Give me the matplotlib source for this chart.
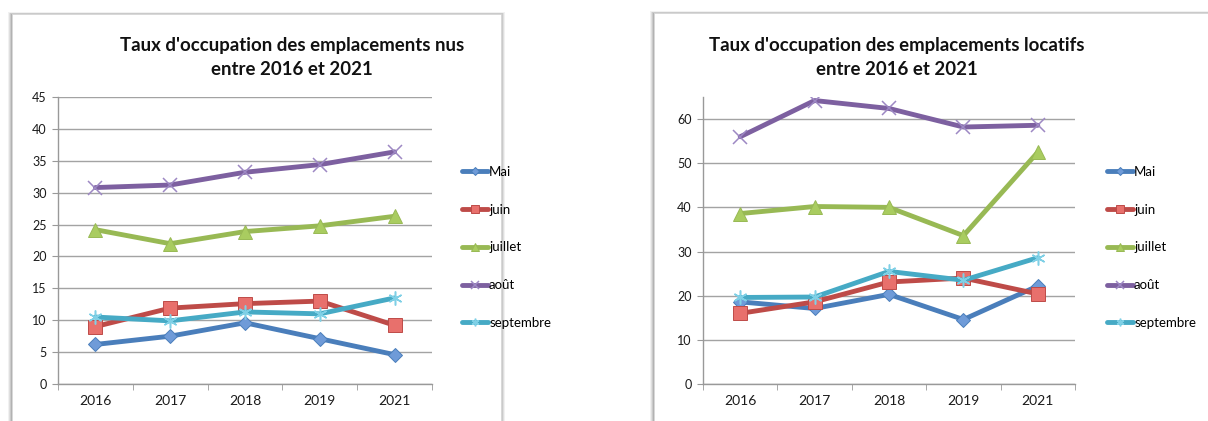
import matplotlib
matplotlib.use("Agg")
import matplotlib.pyplot as plt
from matplotlib.patches import Rectangle
import numpy as np

plt.rcParams["font.family"] = ["Lato", "DejaVu Sans"]

years = ["2016", "2017", "2018", "2019", "2021"]
series_names = ["Mai", "juin", "juillet", "août", "septembre"]

nus_mai = [6.2, 7.5, 9.6, 7.1, 4.6]
nus_juin = [9.0, 11.9, 12.6, 13.0, 9.2]
nus_juillet = [24.2, 22.0, 23.9, 24.8, 26.3]
nus_aout = [30.8, 31.2, 33.2, 34.4, 36.4]
nus_septembre = [10.5, 9.9, 11.3, 11.0, 13.5]

loc_mai = [18.6, 17.1, 20.3, 14.6, 22.2]
loc_juin = [16.0, 18.6, 23.1, 24.0, 20.4]
loc_juillet = [38.6, 40.2, 40.0, 33.6, 52.5]
loc_aout = [56.0, 64.2, 62.4, 58.2, 58.6]
loc_septembre = [19.6, 19.7, 25.5, 23.5, 28.6]

title_nus = "Taux d'occupation des emplacements nus\nentre 2016 et 2021"
title_loc = "Taux d'occupation des emplacements locatifs\nentre 2016 et 2021"

W, H = 1208, 421
fig = plt.figure(figsize=(W / 100, H / 100), dpi=100)
fig.patch.set_facecolor("white")

def px(x0, y0, x1, y1):
    return [x0 / W, 1 - y1 / H, (x1 - x0) / W, (y1 - y0) / H]

# panel frames with shadows
def panel(x0, y0, x1, y1):
    for i, a in enumerate([0.10, 0.14, 0.20, 0.28]):
        d = 4 - i
        r = Rectangle(((x0 - d) / W, -0.01), (x1 - x0 + 2 * d) / W,
                      1 - (y0 - d * 0.4) / H + 0.01,
                      transform=fig.transFigure, facecolor="#777777",
                      edgecolor="none", alpha=a, zorder=-3)
        fig.patches.append(r)
    r = Rectangle((x0 / W, -0.01), (x1 - x0) / W, 1 - y0 / H + 0.01,
                  transform=fig.transFigure, facecolor="white",
                  edgecolor="#d8d8d8", linewidth=0.6, zorder=-2)
    fig.patches.append(r)

panel(12, 14, 501, 440)
panel(654, 13, 1240, 440)

colors = ["#4A7EBB", "#BE4B48", "#98B954", "#7D60A0", "#46AAC5"]
faces = ["#6F9BD8", "#E8706C", "#A9CC60", "#9D88C4", "#7FD0E6"]
markers = ["D", "s", "^", "x", (6, 2, 0)]
msizes = [7.5, 10, 9.5, 9.5, 10]

def draw(ax, data, ymax, ystep, title, title_x, leg_x):
    x = np.arange(len(years))
    handles = []
    for vals, name, c, fc, m, ms in zip(data, series_names, colors, faces, markers, msizes):
        if m in ("x",) or isinstance(m, tuple):
            h, = ax.plot(x, vals, color=c, lw=3.5, marker=m, ms=ms,
                         mec=fc, mew=1.1, label=name, zorder=3,
                         solid_capstyle="round", solid_joinstyle="round")
        else:
            h, = ax.plot(x, vals, color=c, lw=3.5, marker=m, ms=ms,
                         mfc=fc, mec=c, mew=0.7, label=name, zorder=3,
                         solid_capstyle="round", solid_joinstyle="round")
        handles.append(h)
    ax.set_xlim(-0.5, len(years) - 0.5)
    ax.set_ylim(0, ymax)
    ax.set_yticks(np.arange(0, ymax + 0.01, ystep))
    ax.set_xticks(x)
    ax.set_xticklabels(years)
    ax.set_xticks(np.arange(-0.5, len(years)), minor=True)
    ax.tick_params(axis="x", which="major", length=0, pad=8, labelsize=10, labelcolor="#1a1a1a")
    ax.tick_params(axis="x", which="minor", length=4, color="#999999", direction="out")
    ax.tick_params(axis="y", length=4, color="#999999", labelsize=9, labelcolor="#1a1a1a", pad=4)
    ax.grid(axis="y", color="#a3a3a3", lw=1.0)
    ax.set_axisbelow(True)
    for s in ["top", "right"]:
        ax.spines[s].set_visible(False)
    for s in ["left", "bottom"]:
        ax.spines[s].set_color("#999999")
        ax.spines[s].set_linewidth(1.0)
    ax.set_facecolor("none")
    fig.text(title_x / W, 1 - 57.5 / H, title, ha="center", va="center",
             fontsize=13.4, fontweight="bold", linespacing=1.5,
             color="#111111")
    fig.legend(handles=handles, loc="center left",
               bbox_to_anchor=(leg_x / W, 1 - 247.5 / H), frameon=False,
               fontsize=9.5, labelspacing=1.95, handlelength=2.0,
               handletextpad=0.05, borderpad=0, borderaxespad=0, markerscale=0.55)

ax1 = fig.add_axes(px(58, 97, 432, 384))
draw(ax1, [nus_mai, nus_juin, nus_juillet, nus_aout, nus_septembre], 45, 5,
     title_nus, 292, 462)

ax2 = fig.add_axes(px(703, 97, 1075, 384))
draw(ax2, [loc_mai, loc_juin, loc_juillet, loc_aout, loc_septembre], 65, 10,
     title_loc, 897, 1107)

fig.savefig("out.png", dpi=100, facecolor="white")
